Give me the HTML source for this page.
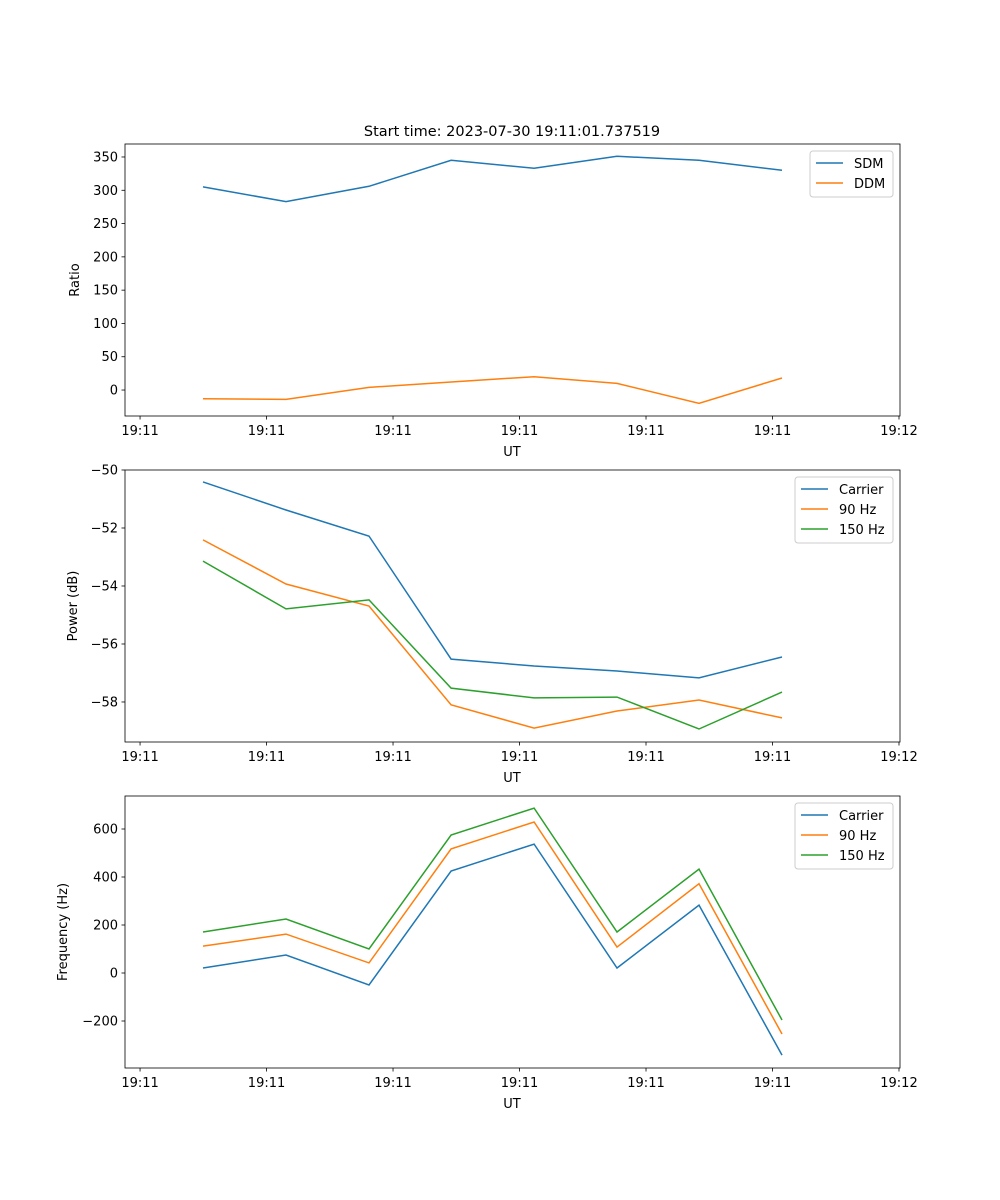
<!DOCTYPE html>
<html><head><meta charset="utf-8"><style>
body{margin:0;background:#fff;}
svg{display:block;font-family:"DejaVu Sans","Liberation Sans",sans-serif;}
</style></head><body>
<svg id="fig" width="1000" height="1200">
<rect width="1000" height="1200" fill="#fff"/>
<text x="512" y="136" font-size="14.5" text-anchor="middle">Start time: 2023-07-30 19:11:01.737519</text>
</svg>
<script>
const xTickLabels=["19:11","19:11","19:11","19:11","19:11","19:11","19:12"];
const xTicks=[0,1,2,3,4,5,6];
const xData=[0.498,1.154,1.810,2.459,3.115,3.771,4.419,5.075];
const sdm=[305,283,306,345,333,351,345,330];
const ddm=[-13,-14,4,12,20,10,-20,18];
const pCarrier=[-50.41,-51.38,-52.28,-56.52,-56.76,-56.93,-57.17,-56.45];
const p90=[-52.41,-53.93,-54.69,-58.10,-58.90,-58.31,-57.93,-58.55];
const p150=[-53.14,-54.79,-54.48,-57.52,-57.86,-57.83,-58.93,-57.66];
const fCarrier=[21,75,-50,425,537,21,283,-342];
const f90=[112,162,42,517,629,108,372,-254];
const f150=[171,225,100,575,687,171,433,-196];
const ratioTicks=[0,50,100,150,200,250,300,350];
const powerTicks=[-58,-56,-54,-52,-50];
const freqTicks=[-200,0,200,400,600];
const C1="#1f77b4",C2="#ff7f0e",C3="#2ca02c";
const NS="http://www.w3.org/2000/svg";
const svg=document.getElementById('fig');
function mk(t,a,p){const e=document.createElementNS(NS,t);for(const k in a)e.setAttribute(k,a[k]);(p||svg).appendChild(e);return e;}
const L=125,R=900,xmin=-0.119,xmax=6.008;
const xs=v=>L+(v-xmin)/(xmax-xmin)*(R-L);
function panel(name,top,bot,ymin,ymax,yt,ylab,series,legW){
  const ys=v=>bot-(v-ymin)/(ymax-ymin)*(bot-top);
  const g=mk('g',{});
  
  
  series.forEach(s=>{
    const pl=mk('polyline',{points:s.v.map((v,i)=>xs(xData[i]).toFixed(1)+','+ys(v).toFixed(1)).join(' '),fill:'none',stroke:s.c,'stroke-width':1.5},g);
    
    
  });
  mk('rect',{x:L,y:top,width:R-L,height:bot-top,fill:'none',stroke:'#000','stroke-width':0.8},g);
  xTicks.forEach((t,i)=>{const x=xs(t);mk('line',{x1:x,x2:x,y1:bot,y2:bot+3.5,stroke:'#000','stroke-width':0.8},g);
    const tx=mk('text',{x:x,y:bot+19,'font-size':13,'text-anchor':'middle'},g);tx.textContent=xTickLabels[i];
    });
  yt.forEach(t=>{const y=ys(t);mk('line',{x1:L-3.5,x2:L,y1:y,y2:y,stroke:'#000','stroke-width':0.8},g);
    const tx=mk('text',{x:L-7,y:y+4.5,'font-size':13,'text-anchor':'end'},g);tx.textContent=String(t).replace('-','\u2212');
    });
  const xl=mk('text',{x:512,y:bot+40,'font-size':13,'text-anchor':'middle'},g);xl.textContent='UT';
  
  const yl=mk('text',{x:0,y:0,'font-size':13,'text-anchor':'middle',transform:`translate(${ylab.x},${(top+bot)/2}) rotate(-90)`},g);yl.textContent=ylab.t;
  
  const lx=R-7-legW,ly=top+7,lh=series.length*20+6;
  const lg=mk('g',{},g);
  
  mk('rect',{x:lx,y:ly,width:legW,height:lh,rx:3,fill:'#fff','fill-opacity':0.8,stroke:'#ccc'},lg);
  series.forEach((s,i)=>{const y=ly+12+i*20;
    const e=mk('line',{x1:lx+6,x2:lx+33,y1:y,y2:y,stroke:s.c,'stroke-width':1.5},lg);
    const t=mk('text',{x:lx+44,y:y+5,'font-size':13},lg);t.textContent=s.n;
    });
}
panel('ratio',144,416,-39,369.5,ratioTicks,{x:79,t:'Ratio'},[{n:'SDM',v:sdm,c:C1},{n:'DDM',v:ddm,c:C2}],83);
panel('power',470,742,-59.38,-50,powerTicks,{x:77,t:'Power (dB)'},[{n:'Carrier',v:pCarrier,c:C1},{n:'90 Hz',v:p90,c:C2},{n:'150 Hz',v:p150,c:C3}],98);
panel('frequency',796,1068,-395.8,737.5,freqTicks,{x:67,t:'Frequency (Hz)'},[{n:'Carrier',v:fCarrier,c:C1},{n:'90 Hz',v:f90,c:C2},{n:'150 Hz',v:f150,c:C3}],98);
</script>
</body></html>
